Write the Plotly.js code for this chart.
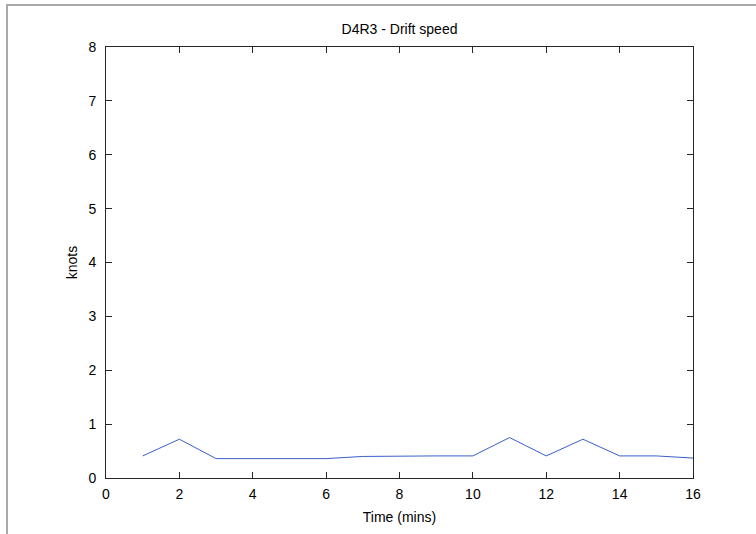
<!DOCTYPE html>
<html>
<head>
<meta charset="utf-8">
<script src="https://cdn.plot.ly/plotly-3.0.1.min.js"></script>
<style>
  html, body { margin: 0; padding: 0; background: #ffffff; }
  #wrap { position: relative; width: 756px; height: 534px; overflow: hidden; }
  #frame { position: absolute; left: 6px; top: 4px; width: 760px; height: 540px;
           border-left: 2px solid #a9a9a9; border-top: 2px solid #a9a9a9; pointer-events: none; }
  #chart { position: absolute; left: 0; top: 0; width: 756px; height: 534px; }
</style>
</head>
<body>
<div id="wrap">
  <div id="chart"></div>
  <div id="frame"></div>
</div>
<script>
// Data
const timeMins = [1, 2, 3, 4, 5, 6, 7, 8, 9, 10, 11, 12, 13, 14, 15, 16];
const speedKnots = [0.41, 0.72, 0.36, 0.36, 0.36, 0.36, 0.40, 0.41, 0.41, 0.41, 0.75, 0.41, 0.72, 0.41, 0.41, 0.37];
const xTicks = [0, 2, 4, 6, 8, 10, 12, 14, 16];
const yTicks = [0, 1, 2, 3, 4, 5, 6, 7, 8];

const font = { family: 'Liberation Sans, Arial, sans-serif', size: 14, color: '#000000' };

const trace = {
  x: timeMins,
  y: speedKnots,
  type: 'scatter',
  mode: 'lines',
  line: { color: '#3a5fcd', width: 1 },
  hoverinfo: 'skip'
};

const axisCommon = {
  showgrid: false,
  zeroline: false,
  showline: true,
  linecolor: '#262626',
  linewidth: 1,
  mirror: 'ticks',
  ticks: 'inside',
  ticklen: 6,
  tickwidth: 1,
  tickcolor: '#262626',
  tickfont: font
};

const layout = {
  width: 756,
  height: 534,
  margin: { l: 105.5, r: 62.5, t: 47, b: 56, pad: 0 },
  paper_bgcolor: '#ffffff',
  plot_bgcolor: '#ffffff',
  showlegend: false,
  font: font,
  title: { text: 'D4R3 - Drift speed', font: font, x: 0.5, xref: 'paper', xanchor: 'center', y: 1 - 29/534, yanchor: 'middle' },
  xaxis: Object.assign({}, axisCommon, {
    range: [0, 16],
    tickvals: xTicks,
    ticktext: xTicks.map(String),
    ticklabelstandoff: 3,
    title: { text: 'Time (mins)', font: font, standoff: 11 }
  }),
  yaxis: Object.assign({}, axisCommon, {
    range: [0, 8],
    tickvals: yTicks,
    ticktext: yTicks.map(String),
    ticklabelstandoff: 6,
    title: { text: 'knots', font: font, standoff: 7 }
  })
};

Plotly.newPlot('chart', [trace], layout, { displayModeBar: false, staticPlot: true });
</script>
</body>
</html>
